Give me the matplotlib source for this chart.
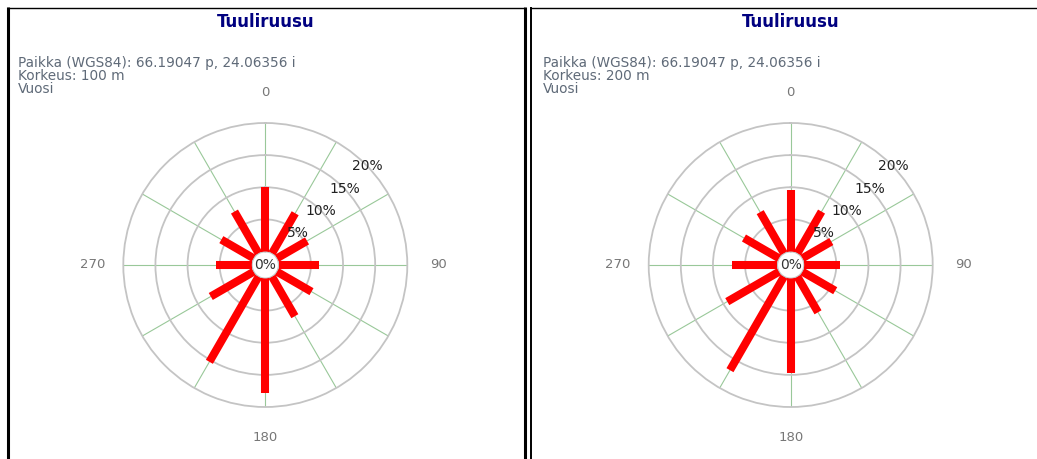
import numpy as np
import matplotlib
matplotlib.use("Agg")
import matplotlib.pyplot as plt
from matplotlib.lines import Line2D

# ---- data ----
directions = [0, 30, 60, 90, 120, 150, 180, 210, 240, 270, 300, 330]
freq_100m = [10.0, 7.2, 5.4, 6.3, 6.2, 7.1, 17.8, 15.3, 7.7, 5.5, 5.8, 7.5]
freq_200m = [9.6, 7.5, 5.2, 5.6, 5.9, 6.4, 14.7, 16.8, 9.3, 7.0, 6.3, 7.4]
ring_values = [5, 10, 15, 20]
compass_labels = ["0", "90", "180", "270"]
compass_angles = [0, 90, 180, 270]
title_text = "Tuuliruusu"
place_text = "Paikka (WGS84): 66.19047 p, 24.06356 i"
heights = ["Korkeus: 100 m", "Korkeus: 200 m"]
period_text = "Vuosi"

W, H = 1037, 459
fig = plt.figure(figsize=(W / 100, H / 100), dpi=100)

def fx(x):
    return x / W

def fy(y):
    return 1 - y / H

R_OUT = 142.0   # px radius of 20% ring
RORIGIN = -2.1

def panel(cx, cy, vals, height_label, text_x):
    ax = fig.add_axes([fx(cx - R_OUT), fy(cy + R_OUT), 2 * R_OUT / W, 2 * R_OUT / H],
                      projection="polar")
    ax.set_theta_zero_location("N")
    ax.set_theta_direction(-1)
    ax.set_ylim(0, 20)
    ax.set_rorigin(RORIGIN)
    ax.set_thetagrids(directions, labels=[])
    ax.set_rgrids([5, 10, 15], labels=[])
    ax.xaxis.grid(True, color="#99c899", lw=0.8)
    ax.yaxis.grid(True, color="#c4c4c4", lw=1.3)
    for s in ax.spines.values():
        s.set_color("#c4c4c4")
        s.set_linewidth(1.3)
    ax.tick_params(length=0)
    th = np.deg2rad(directions)
    ax.vlines(th, 0, vals, color="#ff0000", lw=5.8, zorder=5)
    # ring labels
    for r in ring_values:
        ax.text(np.deg2rad(46), r, f"{r}%", ha="center", va="center",
                fontsize=10, color="#222222", zorder=6)
    ax.text(0.5, 0.5, "0%", transform=ax.transAxes, ha="center", va="center",
            fontsize=10, color="#333333", zorder=6)
    for lab, ang in zip(compass_labels, compass_angles):
        ax.text(np.deg2rad(ang), 24.8, lab, ha="center", va="center",
                fontsize=9.5, color="#777777", clip_on=False)
    fig.text(fx(cx), fy(22), title_text, ha="center", va="center",
             fontsize=12, fontweight="bold", color="#000080")
    tc = "#5f6a78"
    fig.text(fx(text_x), fy(63), place_text, ha="left", va="center", fontsize=9.8, color=tc)
    fig.text(fx(text_x), fy(76), height_label, ha="left", va="center", fontsize=9.8, color=tc)
    fig.text(fx(text_x), fy(89), period_text, ha="left", va="center", fontsize=9.8, color=tc)

panel(265.3, 265, freq_100m, heights[0], 18)
panel(790.7, 265, freq_200m, heights[1], 543)

# panel borders
def line(x0, y0, x1, y1, lw):
    fig.add_artist(Line2D([fx(x0), fx(x1)], [fy(y0), fy(y1)], color="black",
                          lw=lw, solid_capstyle="butt"))

line(8, 7, 8, 459, 2.2)
line(7, 7.5, 525, 7.5, 1.0)
line(524.5, 7, 524.5, 459, 2.2)
line(530.5, 7, 530.5, 459, 1.4)
line(530, 7.5, 1037, 7.5, 1.0)

fig.savefig("out.png", dpi=100)
